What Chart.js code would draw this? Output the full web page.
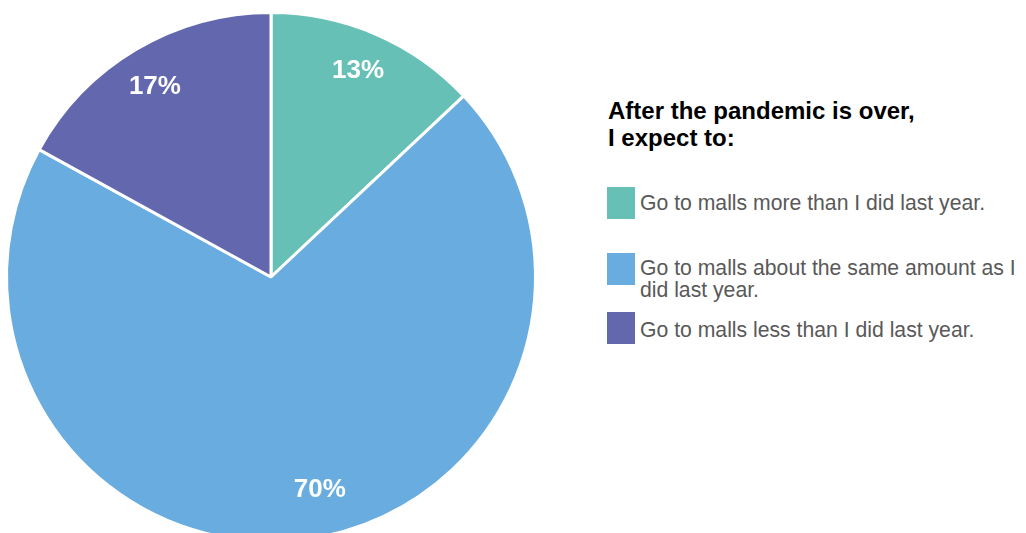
<!DOCTYPE html>
<html>
<head>
<meta charset="utf-8">
<script src="https://cdn.jsdelivr.net/npm/chart.js@4.4.1/dist/chart.umd.min.js"></script>
<style>
    html, body { margin: 0; padding: 0; background: #fff; width: 1026px; height: 533px; overflow: hidden; }
    #pieWrap { position: absolute; left: 0; top: 0; width: 542px; height: 554px; }
    .lg { position: absolute; font-family: "Liberation Sans", Arial, sans-serif; }
    #legendTitle { left: 608px; top: 97px; font-size: 24px; line-height: 27px; font-weight: bold; color: #000; }
    .sw { position: absolute; left: 607px; width: 28px; height: 32px; }
    .txt { position: absolute; left: 640px; width: 386px; font-size: 21.2px; line-height: 22px; color: #595959; }
</style>
</head>
<body>
<div id="pieWrap"><canvas id="mallPie"></canvas></div>
<div id="legendTitle" class="lg">After the pandemic is over,<br>I expect to:</div>
<div id="legendItems"></div>
<script>
const labels = [
    "Go to malls more than I did last year.",
    "Go to malls about the same amount as I did last year.",
    "Go to malls less than I did last year."
];
const shares = [13, 70, 17];
const sliceColors = ["#67C0B5", "#69ACDF", "#6368AE"];

// where each % label sits inside its slice: share of the slice angle, share of the radius
const labelAngleFrac = [0.487, 0.477, 0.49];
const labelRadiusFrac = [0.85, 0.82, 0.847];

const sliceLabels = {
    id: "sliceLabels",
    afterDatasetsDraw(chart) {
        const ctx = chart.ctx;
        const meta = chart.getDatasetMeta(0);
        ctx.save();
        ctx.fillStyle = "#fff";
        ctx.font = "bold 26px 'Liberation Sans', Arial, sans-serif";
        ctx.textAlign = "center";
        ctx.textBaseline = "middle";
        meta.data.forEach((arc, i) => {
            const a = arc.startAngle + (arc.endAngle - arc.startAngle) * labelAngleFrac[i];
            const r = arc.outerRadius * labelRadiusFrac[i];
            ctx.fillText(shares[i] + "%", arc.x + Math.cos(a) * r, arc.y + Math.sin(a) * r + 1);
        });
        ctx.restore();
    }
};

const ctx = document.getElementById("mallPie").getContext("2d");
new Chart(ctx, {
    type: 'pie',
    data: {
        labels: labels,
        datasets: [{
            data: shares,
            backgroundColor: sliceColors,
            borderColor: '#fff',
            borderWidth: 3
        }]
    },
    options: {
        responsive: true, maintainAspectRatio: false, animation: false,
        layout: { padding: { left: 5, right: 5, top: 11, bottom: 11 } },
        plugins: { legend: { display: false }, tooltip: { enabled: false } }
    },
    plugins: [sliceLabels]
});

// legend rows on the right
const swatchTop = [187, 253, 312];
const textTop = [192, 257, 319];
const box = document.getElementById("legendItems");
labels.forEach((lab, i) => {
    const sw = document.createElement("div");
    sw.className = "sw";
    sw.style.top = swatchTop[i] + "px";
    sw.style.background = sliceColors[i];
    const txt = document.createElement("div");
    txt.className = "txt lg";
    txt.style.top = textTop[i] + "px";
    txt.textContent = lab;
    box.appendChild(sw);
    box.appendChild(txt);
});
</script>
</body>
</html>
